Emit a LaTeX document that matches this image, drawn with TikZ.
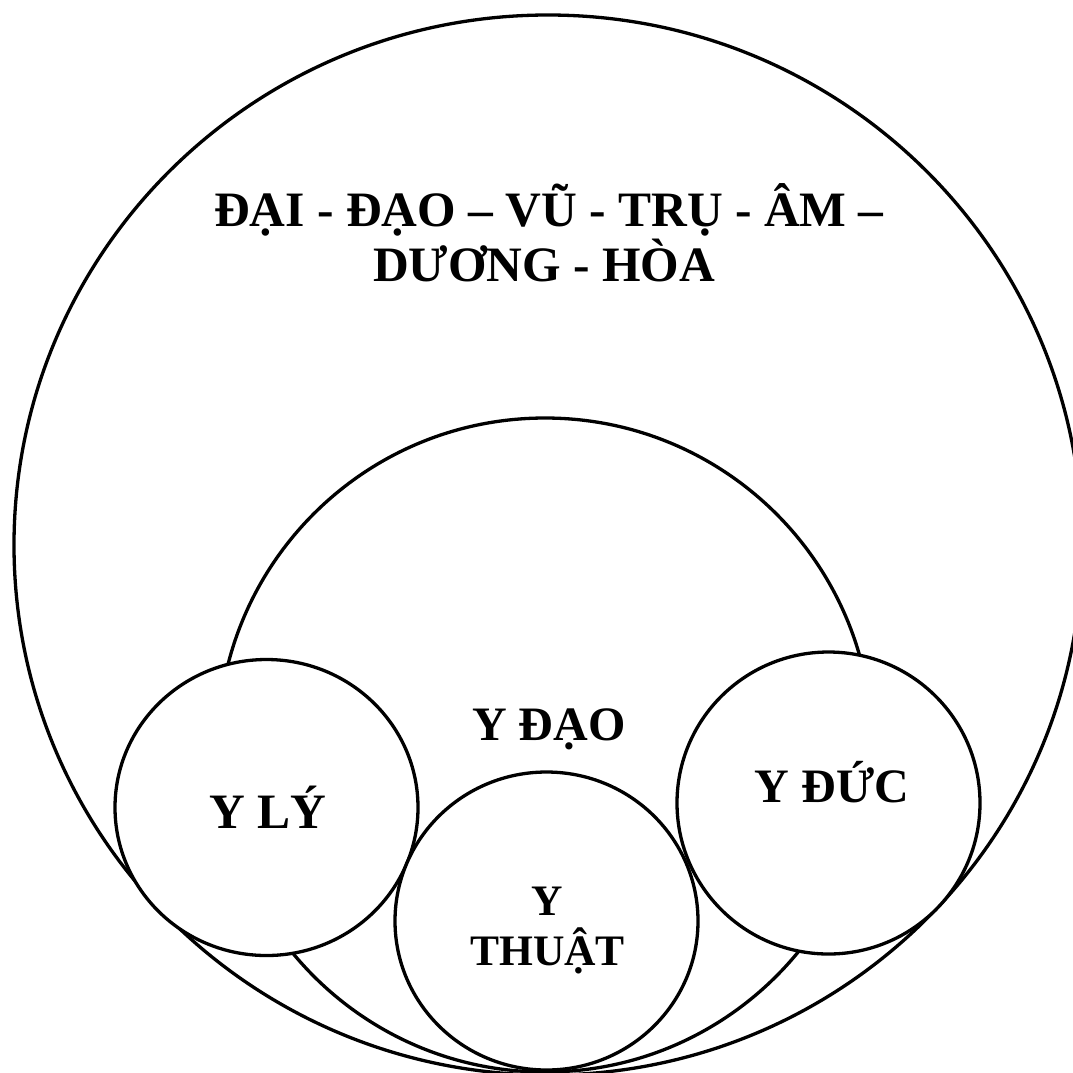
\documentclass[tikz,border=0pt]{standalone}
\usepackage{fontspec}
\setmainfont{Liberation Serif}
\begin{document}
\begin{tikzpicture}[x=1pt,y=-1pt,
  ring/.style={draw=black,line width=3.3pt},
  lbl/.style={font=\bfseries\fontsize{48}{50}\selectfont,inner sep=0pt},
  big/.style={font=\bfseries\fontsize{49.5}{52}\selectfont,inner sep=0pt},
  small/.style={font=\bfseries\fontsize{43.5}{50}\selectfont,inner sep=0pt}]
\useasboundingbox (0,0) rectangle (1073,1072);
% outer ellipse
\draw[ring] (548,545) ellipse [x radius=534, y radius=530];
% medium circle
\draw[ring] (545,745) circle [radius=327];
% small circles
\draw[ring,fill=white] (266.5,807.5) ellipse [x radius=151.5, y radius=148];
\draw[ring,fill=white] (828.5,803) ellipse [x radius=151.5, y radius=151];
\draw[ring,fill=white] (546.5,921) ellipse [x radius=151.5, y radius=149];
% texts
\node[big,anchor=base west] (t1) at (214,226) {ĐẠI - ĐẠO – VŨ - TRỤ - ÂM –};
\node[big,anchor=base west] (t2) at (373,281) {DƯƠNG - HÒA};
\node[lbl,anchor=base] (ydao) at (549,740) {Y ĐẠO};
\node[big,anchor=base] (yly) at (267.5,828) {Y LÝ};
\node[lbl,anchor=base] (yduc) at (832,802) {Y ĐỨC};
\node[small,anchor=base,align=center] (ythuat) at (547.5,965) {Y\\THUẬT};
\end{tikzpicture}
\end{document}
